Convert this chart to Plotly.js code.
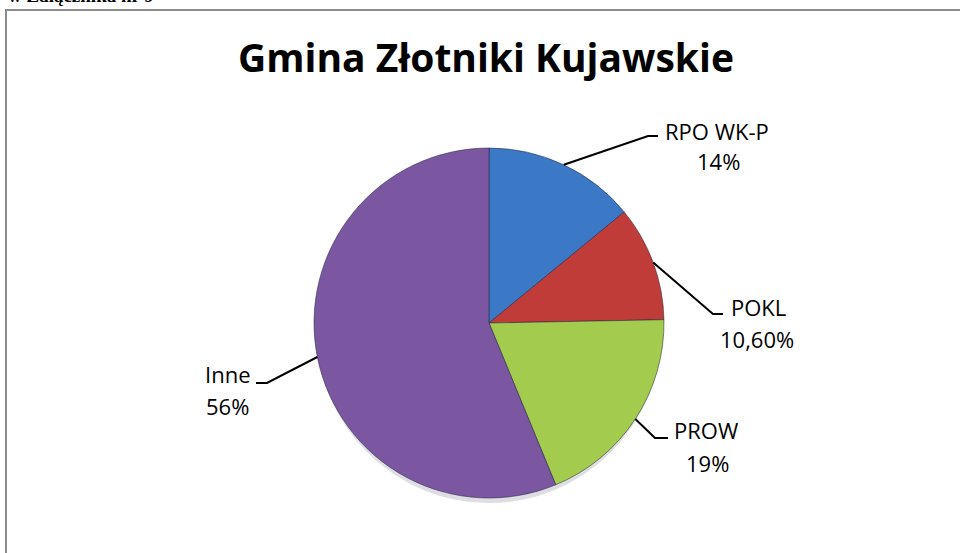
<!DOCTYPE html>
<html>
<head>
<meta charset="utf-8">
<script src="https://cdn.plot.ly/plotly-3.0.1.min.js"></script>
<style>html,body{margin:0;padding:0;background:#fff;}#chart{width:960px;height:553px;}</style>
</head>
<body>
<div id="chart"></div>
<script>
// ---- data ----
var categories = ["RPO WK-P", "POKL", "PROW", "Inne"];
var values = [14, 10.6, 19, 56];
var pctLabels = ["14%", "10,60%", "19%", "56%"];
var colors = ["#3b79c6", "#c03c38", "#a3cb4d", "#7b57a2"];
var chartTitle = "Gmina Złotniki Kujawskie";
var headerText = "w Załącznika nr 9";

// ---- layout helpers (pixels) ----
var W = 960, H = 553;
var cx = 489, cy = 323, R = 175;
function px(x) { return x / W; }
function py(y) { return 1 - y / H; }

// label layout: elbow point, line end, name centre, percent centre (pixels)
var labelLayout = [
  {elbow: [648, 136], end: [658, 136], name: [717, 131], pct: [718, 161]},
  {elbow: [713, 314], end: [723, 314], name: [758, 307], pct: [757, 339]},
  {elbow: [655, 438], end: [668, 438], name: [706, 430], pct: [707, 463]},
  {elbow: [267, 383], end: [256, 383], name: [227, 374], pct: [227, 406]}
];

var total = values.reduce(function (a, b) { return a + b; }, 0);
var shapes = [];
var annotations = [];
var cum = 0;
var lblFont = {family: "Open Sans, sans-serif", size: 22, color: "#000"};

// soft shadow under the pie
shapes.push({
  type: "circle", xref: "paper", yref: "paper",
  x0: px(cx - R + 2), x1: px(cx + R - 2), y0: py(cy + R + 5), y1: py(cy - R + 5),
  fillcolor: "rgba(120,120,140,0.25)", line: {width: 0}, layer: "below"
});

values.forEach(function (v, i) {
  var mid = (cum + v / 2) / total * 2 * Math.PI;
  cum += v;
  var sx = cx + R * Math.sin(mid), sy = cy - R * Math.cos(mid);
  var L = labelLayout[i];
  shapes.push({
    type: "path", xref: "paper", yref: "paper",
    path: "M " + px(sx) + "," + py(sy) + " L " + px(L.elbow[0]) + "," + py(L.elbow[1]) +
          " L " + px(L.end[0]) + "," + py(L.end[1]),
    line: {color: "#000", width: 2}
  });
  annotations.push({
    xref: "paper", yref: "paper", x: px(L.name[0]), y: py(L.name[1]),
    xanchor: "center", yanchor: "middle", showarrow: false,
    text: categories[i], font: lblFont
  });
  annotations.push({
    xref: "paper", yref: "paper", x: px(L.pct[0]), y: py(L.pct[1]),
    xanchor: "center", yanchor: "middle", showarrow: false,
    text: pctLabels[i], font: lblFont
  });
});

// chart frame
shapes.push({
  type: "rect", xref: "paper", yref: "paper",
  x0: px(6), x1: px(1000), y0: py(10), y1: py(600),
  line: {color: "#8c8c8c", width: 2}, fillcolor: "rgba(0,0,0,0)", layer: "below"
});

// header text partly cut off at the top
annotations.push({
  xref: "paper", yref: "paper", x: px(6), y: py(-5),
  xanchor: "left", yanchor: "middle", showarrow: false,
  text: "<b>" + headerText + "</b>",
  font: {family: "Liberation Serif, serif", size: 19, color: "#000"}
});

var trace = {
  type: "pie",
  labels: categories,
  values: values,
  sort: false,
  direction: "clockwise",
  rotation: 0,
  textinfo: "none",
  hoverinfo: "label+percent",
  marker: {colors: colors, line: {color: "rgba(40,40,70,0.55)", width: 1}},
  domain: {x: [px(cx - R), px(cx + R)], y: [py(cy + R), py(cy - R)]},
  showlegend: false
};

var layout = {
  width: W, height: H,
  margin: {l: 0, r: 0, t: 0, b: 0},
  paper_bgcolor: "#fff",
  title: {
    text: chartTitle,
    x: px(486), xanchor: "center", xref: "paper",
    y: py(58), yanchor: "middle", yref: "paper",
    font: {family: "Open Sans, sans-serif", size: 39, weight: 700, color: "#000"}
  },
  shapes: shapes,
  annotations: annotations,
  showlegend: false
};

Plotly.newPlot("chart", [trace], layout, {displayModeBar: false, staticPlot: true});
</script>
</body>
</html>
